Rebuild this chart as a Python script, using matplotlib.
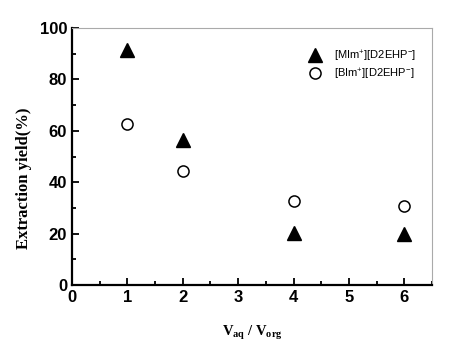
import matplotlib
matplotlib.use('Agg')
from matplotlib import pyplot as plt
from matplotlib.ticker import MultipleLocator

# values
ratio = [1, 2, 4, 6]
mim_yield = [91.3, 56.4, 20.4, 19.7]
bim_yield = [62.6, 44.2, 32.7, 30.8]

plt.rcParams['mathtext.fontset'] = 'custom'
plt.rcParams['mathtext.rm'] = 'Liberation Sans'
plt.rcParams['mathtext.bf'] = 'Liberation Serif:bold'

fig = plt.figure(figsize=(4.5, 3.48), dpi=100)
ax = fig.add_axes([0.16, 0.181, 0.80, 0.7385])

ax.plot(ratio, mim_yield, linestyle='none', marker='^', markersize=10,
        color='black', label=r'[MIm$^{+}$][D2EHP$^{-}$]')
ax.plot(ratio, bim_yield, linestyle='none', marker='o', markersize=8,
        markerfacecolor='white', markeredgecolor='black', markeredgewidth=1.1,
        label=r'[BIm$^{+}$][D2EHP$^{-}$]')

ax.set_xlim(0, 6.5)
ax.set_ylim(0, 100)
ax.xaxis.set_major_locator(MultipleLocator(1))
ax.xaxis.set_minor_locator(MultipleLocator(0.5))
ax.yaxis.set_major_locator(MultipleLocator(20))
ax.yaxis.set_minor_locator(MultipleLocator(10))
ax.tick_params(which='both', direction='in', top=False, right=False, width=1.3)
ax.tick_params(which='major', length=5)
ax.tick_params(which='minor', length=3)
for lbl in ax.get_xticklabels() + ax.get_yticklabels():
    lbl.set_fontfamily('Liberation Sans')
    lbl.set_fontweight('bold')
    lbl.set_fontsize(12)

for side in ['left', 'bottom']:
    ax.spines[side].set_linewidth(1.6)
for side in ['top', 'right']:
    ax.spines[side].set_linewidth(0.8)
    ax.spines[side].set_color('#aaaaaa')

ax.set_ylabel('Extraction yield(%)', fontfamily='Liberation Serif',
              fontweight='bold', fontsize=12)
ax.yaxis.set_label_coords(-0.111, 0.416)
ax.set_xlabel(r'$\mathbf{V_{aq}}$ / $\mathbf{V_{org}}$', fontfamily='Liberation Serif',
              fontweight='bold', fontsize=10.5, labelpad=14)

ax.legend(loc='upper right', bbox_to_anchor=(0.985, 0.96), frameon=False,
          prop={'family': 'Liberation Sans', 'size': 8}, handletextpad=0.7,
          labelspacing=0.25, markerscale=1.0)

plt.savefig('out.png', dpi=100)
